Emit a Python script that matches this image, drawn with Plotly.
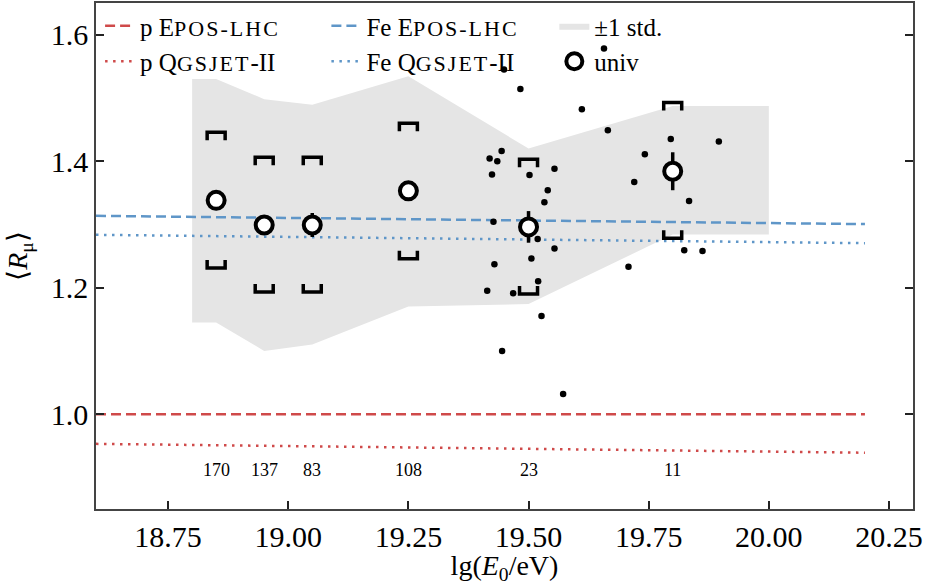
import plotly.graph_objects as go

# ---------------- data ----------------
bin_centers = [18.85, 18.95, 19.05, 19.25, 19.50, 19.80]
univ_mean = [1.338, 1.299, 1.299, 1.353, 1.296, 1.384]
univ_err = [0.008, 0.010, 0.019, 0.010, 0.025, 0.030]
sys_high = [1.4455, 1.406, 1.406, 1.460, 1.403, 1.4926]
sys_low = [1.231, 1.193, 1.193, 1.2455, 1.190, 1.278]
counts = ["170", "137", "83", "108", "23", "11"]
count_level = 0.911

band_x = [18.80, 18.85, 18.95, 19.05, 19.25, 19.50, 19.80, 20.00]
band_hi = [1.530, 1.530, 1.498, 1.489, 1.534, 1.420, 1.487, 1.487]
band_lo = [1.145, 1.145, 1.100, 1.110, 1.170, 1.174, 1.284, 1.284]

model_x = [18.6, 20.2]
p_epos = [1.000, 1.000]
p_qgs = [0.953, 0.939]
fe_epos = [1.3135, 1.3004]
fe_qgs = [1.2835, 1.2703]

event_lgE = [19.449, 19.483, 19.611, 19.665, 19.796, 19.896, 19.444, 19.419,
             19.435, 19.424, 19.502, 19.554, 19.742, 19.720, 19.540, 19.533,
             19.834, 19.427, 19.519, 19.554, 19.506, 19.429, 19.708, 19.824,
             19.862, 19.520, 19.414, 19.468, 19.527, 19.445, 19.572, 19.657]
event_R = [1.545, 1.514, 1.482, 1.449, 1.435, 1.431, 1.416, 1.404,
           1.400, 1.379, 1.378, 1.388, 1.411, 1.367, 1.354, 1.335,
           1.337, 1.304, 1.277, 1.262, 1.246, 1.237, 1.233, 1.259,
           1.258, 1.210, 1.195, 1.191, 1.155, 1.100, 1.032, 1.578]

x_ticks = [18.75, 19.00, 19.25, 19.50, 19.75, 20.00, 20.25]
y_ticks = [1.0, 1.2, 1.4, 1.6]

# ---------------- layout constants ----------------
W, H = 928, 585
ML, MR, MT, MB = 96, 15, 3, 76
XR = [18.6, 20.30]
YR = [0.85, 1.65]
px_x = (W - ML - MR) / (XR[1] - XR[0])
px_y = (H - MT - MB) / (YR[1] - YR[0])

FONT = "Liberation Serif"
RED = "#cf4a4a"
BLUE = "#5f96c8"

fig = go.Figure()

# +-1 std band
fig.add_trace(go.Scatter(
    x=band_x + band_x[::-1], y=band_hi + band_lo[::-1],
    fill="toself", fillcolor="#e5e5e5", line=dict(width=0, color="#e5e5e5"),
    mode="lines", name="±1 std.", legend="legend3", hoverinfo="skip"))

sc = "<span style='font-size:22px;letter-spacing:2px'>"
# model lines
fig.add_trace(go.Scatter(x=model_x, y=p_epos, mode="lines",
    line=dict(color=RED, width=2.5, dash="10px,5px"),
    name="p E" + sc + "POS-LHC</span>", legend="legend"))
fig.add_trace(go.Scatter(x=model_x, y=p_qgs, mode="lines",
    line=dict(color=RED, width=2.5, dash="2.5px,5.5px"),
    name="p Q" + sc + "GSJET</span>-II", legend="legend"))
fig.add_trace(go.Scatter(x=model_x, y=fe_epos, mode="lines",
    line=dict(color=BLUE, width=2.5, dash="10px,5px"),
    name="Fe E" + sc + "POS-LHC</span>", legend="legend2"))
fig.add_trace(go.Scatter(x=model_x, y=fe_qgs, mode="lines",
    line=dict(color=BLUE, width=2.5, dash="2.5px,5.5px"),
    name="Fe Q" + sc + "GSJET</span>-II", legend="legend2"))

# individual events
fig.add_trace(go.Scatter(x=event_lgE, y=event_R, mode="markers",
    marker=dict(color="black", size=6.5), showlegend=False))

# systematic brackets (built from data values)
hw = 9 / px_x
leg = 8 / px_y
bx, by = [], []
for xc, hi, lo in zip(bin_centers, sys_high, sys_low):
    bx += [xc - hw, xc - hw, xc + hw, xc + hw, None]
    by += [hi - leg, hi, hi, hi - leg, None]
    bx += [xc - hw, xc - hw, xc + hw, xc + hw, None]
    by += [lo + leg, lo, lo, lo + leg, None]
fig.add_trace(go.Scatter(x=bx, y=by, mode="lines",
    line=dict(color="black", width=3.5), showlegend=False, hoverinfo="skip"))

# univ points
fig.add_trace(go.Scatter(x=bin_centers, y=univ_mean, mode="markers",
    marker=dict(symbol="circle", size=17, color="white",
                line=dict(color="black", width=4)),
    error_y=dict(type="data", array=univ_err, color="black",
                 thickness=3.5, width=0),
    name="univ", legend="legend3"))

# counts
for xc, c in zip(bin_centers, counts):
    fig.add_annotation(x=xc, y=count_level, text=c, showarrow=False,
                       font=dict(family=FONT, size=18, color="black"))

leg_common = dict(bgcolor="rgba(0,0,0,0)", borderwidth=0,
                  font=dict(family=FONT, size=25, color="black"),
                  xanchor="left", yanchor="top", yref="paper",
                  tracegroupgap=0, itemwidth=30)
fig.update_layout(
    width=W, height=H,
    margin=dict(l=ML, r=MR, t=MT, b=MB, autoexpand=False),
    paper_bgcolor="white", plot_bgcolor="white",
    font=dict(family=FONT, color="black"),
    legend=dict(x=0.005, y=1.0, **leg_common),
    legend2=dict(x=0.282, y=1.0, **leg_common),
    legend3=dict(x=0.561, y=1.0, **leg_common),
    xaxis=dict(range=XR, tickvals=x_ticks, automargin=False,
               ticktext=[f"{v:.2f}" for v in x_ticks],
               showgrid=False, zeroline=False, showline=True,
               linecolor="#444", linewidth=1.5, mirror=True,
               ticks="inside", ticklen=8, tickwidth=1.5, tickcolor="#222",
               tickfont=dict(family=FONT, size=30),
               title=dict(text="lg(<i>E</i><sub>0</sub>/eV)",
                          font=dict(family=FONT, size=28))),
    yaxis=dict(range=YR, tickvals=y_ticks, automargin=False,
               ticktext=[f"{v:.1f}" for v in y_ticks],
               showgrid=False, zeroline=False, showline=True,
               linecolor="#444", linewidth=1.5, mirror="ticks",
               ticks="inside", ticklen=8, tickwidth=1.5, tickcolor="#222",
               tickfont=dict(family=FONT, size=30),
               title=dict(text="⟨<i>R</i><sub>μ</sub>⟩",
                          font=dict(family=FONT, size=28))),
)

fig.write_html("out.html", config={"displayModeBar": False},
               post_script="document.body.style.margin='0';"
                           "document.body.style.overflow='hidden';")
